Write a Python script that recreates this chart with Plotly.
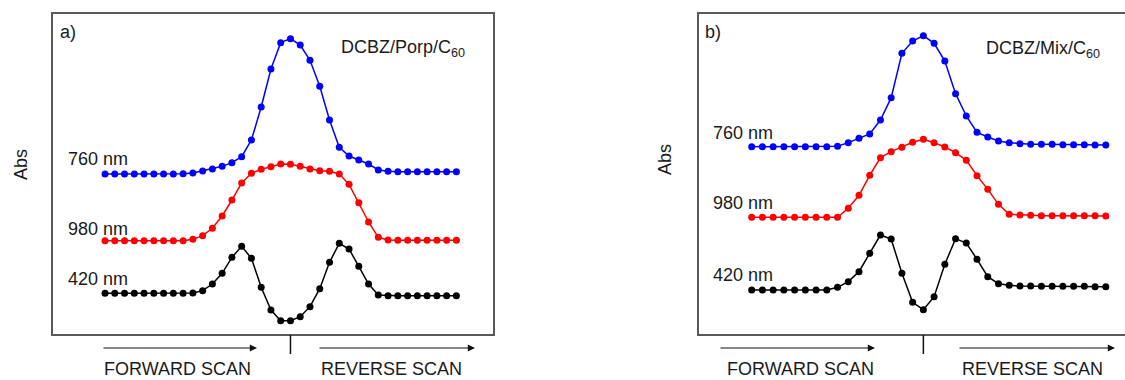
import plotly.graph_objects as go

W, H = 1125, 380

# ---- data (arbitrary absorbance units, offset traces) ----
scan_a = list(range(37))
scan_b = list(range(34))

a_760 = [4.80, 4.80, 4.80, 4.80, 4.80, 4.80, 4.80, 4.80, 4.81, 4.83, 4.89, 4.95, 5.03,
         5.14, 5.32, 5.82, 6.81, 7.95, 8.74, 8.86, 8.67, 8.21, 7.43, 6.42, 5.60, 5.34,
         5.22, 5.10, 4.92, 4.88, 4.87, 4.87, 4.87, 4.87, 4.87, 4.87, 4.87]
a_980 = [2.80, 2.80, 2.80, 2.80, 2.80, 2.80, 2.80, 2.80, 2.80, 2.84, 2.95, 3.17, 3.54,
         4.02, 4.53, 4.82, 4.94, 5.02, 5.10, 5.09, 5.03, 4.95, 4.90, 4.88, 4.80, 4.49,
         3.94, 3.36, 2.90, 2.82, 2.81, 2.81, 2.81, 2.81, 2.81, 2.81, 2.81]
a_420 = [1.22, 1.22, 1.22, 1.22, 1.22, 1.22, 1.22, 1.22, 1.22, 1.23, 1.30, 1.50, 1.82,
         2.30, 2.63, 2.27, 1.40, 0.72, 0.40, 0.40, 0.52, 0.82, 1.36, 2.15, 2.72, 2.55,
         2.03, 1.50, 1.17, 1.15, 1.15, 1.15, 1.15, 1.15, 1.15, 1.15, 1.15]

b_760 = [5.62, 5.62, 5.62, 5.62, 5.62, 5.62, 5.62, 5.62, 5.63, 5.74, 5.87, 6.00, 6.42,
         7.09, 8.42, 8.79, 8.95, 8.72, 8.19, 7.21, 6.54, 6.05, 5.91, 5.79, 5.74, 5.71,
         5.69, 5.69, 5.69, 5.68, 5.68, 5.68, 5.67, 5.67]
b_980 = [3.50, 3.50, 3.50, 3.50, 3.50, 3.50, 3.50, 3.50, 3.50, 3.77, 4.16, 4.76, 5.29,
         5.47, 5.60, 5.75, 5.84, 5.74, 5.61, 5.44, 5.21, 4.75, 4.34, 3.89, 3.59, 3.57,
         3.56, 3.55, 3.55, 3.55, 3.55, 3.55, 3.55, 3.54]
b_420 = [1.32, 1.32, 1.32, 1.32, 1.32, 1.32, 1.32, 1.32, 1.40, 1.57, 1.87, 2.42, 2.97,
         2.85, 1.82, 0.95, 0.73, 1.12, 2.09, 2.86, 2.73, 2.24, 1.72, 1.51, 1.46, 1.44,
         1.44, 1.43, 1.43, 1.43, 1.43, 1.43, 1.42, 1.42]

turn_a = 19   # scan index where forward scan turns to reverse
turn_b = 16

wavelength_labels = ["760 nm", "980 nm", "420 nm"]
colors = ["#0000ff", "#ff0000", "#000000"]

FONT = "Liberation Sans, Arial, sans-serif"
TXT = "#1a1a1a"
BOX = "#5a5a5a"

fig = go.Figure()
for ys, c in zip([a_760, a_980, a_420], colors):
    fig.add_trace(go.Scatter(x=scan_a, y=ys, mode="lines+markers",
                             line=dict(color=c, width=1.5),
                             marker=dict(color=c, size=7),
                             xaxis="x", yaxis="y", showlegend=False))
for ys, c in zip([b_760, b_980, b_420], colors):
    fig.add_trace(go.Scatter(x=scan_b, y=ys, mode="lines+markers",
                             line=dict(color=c, width=1.5),
                             marker=dict(color=c, size=7),
                             xaxis="x2", yaxis="y2", showlegend=False))

def px(x):
    return x / W

def py(y):
    return (H - y) / H

ydom = [py(334), py(14)]
common = dict(showgrid=False, zeroline=False, showticklabels=False, ticks="",
              showline=True, linecolor=BOX, linewidth=1.5)
fig.update_layout(
    width=W, height=H,
    margin=dict(l=0, r=0, t=0, b=0),
    paper_bgcolor="white", plot_bgcolor="white",
    xaxis=dict(domain=[px(53), px(493)], range=[-5.33, 39.75], mirror=True,
               anchor="y", **common),
    yaxis=dict(domain=ydom, range=[0, 9.6], mirror=True, anchor="x", **common),
    xaxis2=dict(domain=[px(699), 1.0], range=[-4.91, 34.79], mirror=True,
                anchor="y2", **common),
    yaxis2=dict(domain=ydom, range=[0, 9.6], mirror=False, anchor="x2", **common),
    font=dict(family=FONT, size=18, color=TXT),
)

ann = []
def text(x, y, s, xanchor="left", **kw):
    ann.append(dict(x=px(x), y=py(y), xref="paper", yref="paper", text=s,
                    showarrow=False, xanchor=xanchor, yanchor="middle",
                    font=dict(family=FONT, size=18, color=TXT), **kw))

# panel letters
text(58, 32, "a)")
text(703, 32, "b)")
# sample names
text(339, 49, "DCBZ/Porp/C<sub>60</sub>")
text(984, 50, "DCBZ/Mix/C<sub>60</sub>")
# wavelength labels
for lab, ya, yb in zip(wavelength_labels, [159, 229, 279], [133, 203, 275]):
    text(66, ya, lab)
    text(711, yb, lab)
# Abs labels
text(21, 165, "Abs", xanchor="center", textangle=-90)
text(665, 160, "Abs", xanchor="center", textangle=-90)
# scan labels
text(177, 369, "FORWARD SCAN", xanchor="center")
text(391, 369, "REVERSE SCAN", xanchor="center")
text(800, 369, "FORWARD SCAN", xanchor="center")
text(1032, 369, "REVERSE SCAN", xanchor="center")

# arrows
for x0, x1 in [(102, 257), (318, 475), (719, 875), (958, 1115)]:
    ann.append(dict(x=px(x1), y=py(348), xref="paper", yref="paper",
                    ax=-(x1 - x0), ay=0, axref="pixel", ayref="pixel",
                    text="", showarrow=True, arrowhead=2, arrowsize=1.2,
                    arrowwidth=1.2, arrowcolor="#111111"))
fig.update_layout(annotations=ann)

# turn-point ticks below the frames
fig.add_shape(type="line", xref="x", yref="paper", x0=turn_a, x1=turn_a,
              y0=py(335), y1=py(354), line=dict(color="#111111", width=1.5))
fig.add_shape(type="line", xref="x2", yref="paper", x0=turn_b, x1=turn_b,
              y0=py(335), y1=py(354), line=dict(color="#111111", width=1.5))

fig.write_html("out.html")
